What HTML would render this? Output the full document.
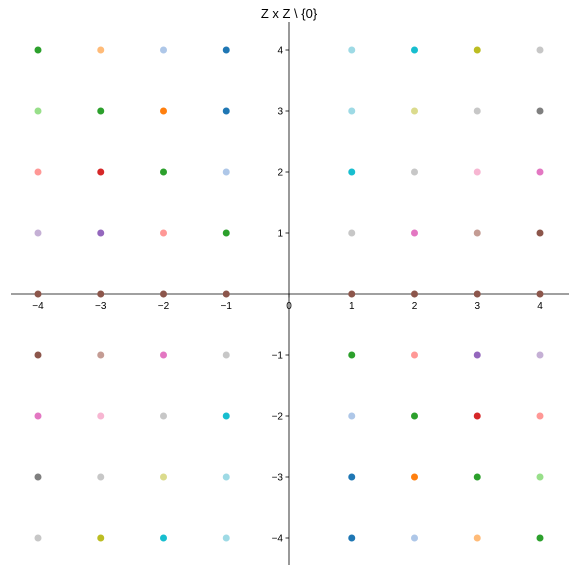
<!DOCTYPE html>
<html><head><meta charset="utf-8"><style>
body{margin:0;background:#fff;}
svg{display:block;font-family:"Liberation Sans","DejaVu Sans",sans-serif;}
</style></head><body>
<svg id="chart" width="579" height="577" xmlns="http://www.w3.org/2000/svg">
<text x="289" y="18" text-anchor="middle" font-size="13">Z x Z \ {0}</text>
<g id="axes"></g>
<g id="points"></g>
</svg>
<script>
const xTicks=[-4,-3,-2,-1,0,1,2,3,4];
const yTicks=[-4,-3,-2,-1,1,2,3,4];
const xs=[-4,-3,-2,-1,1,2,3,4];
const ys=[4,3,2,1,0,-1,-2,-3,-4];
const rowColors=[
["#2ca02c","#ffbb78","#aec7e8","#1f77b4","#9edae5","#17becf","#bcbd22","#c7c7c7"],
["#98df8a","#2ca02c","#ff7f0e","#1f77b4","#9edae5","#dbdb8d","#c7c7c7","#7f7f7f"],
["#ff9896","#d62728","#2ca02c","#aec7e8","#17becf","#c7c7c7","#f7b6d2","#e377c2"],
["#c5b0d5","#9467bd","#ff9896","#2ca02c","#c7c7c7","#e377c2","#c49c94","#8c564b"],
["#8c564b","#8c564b","#8c564b","#8c564b","#8c564b","#8c564b","#8c564b","#8c564b"],
["#8c564b","#c49c94","#e377c2","#c7c7c7","#2ca02c","#ff9896","#9467bd","#c5b0d5"],
["#e377c2","#f7b6d2","#c7c7c7","#17becf","#aec7e8","#2ca02c","#d62728","#ff9896"],
["#7f7f7f","#c7c7c7","#dbdb8d","#9edae5","#1f77b4","#ff7f0e","#2ca02c","#98df8a"],
["#c7c7c7","#bcbd22","#17becf","#9edae5","#1f77b4","#aec7e8","#ffbb78","#2ca02c"]
];
const NS="http://www.w3.org/2000/svg";
const X=v=>289+v*62.75, Y=v=>294-v*61;
function mk(t,a,p){const e=document.createElementNS(NS,t);for(const k in a)e.setAttribute(k,a[k]);p.appendChild(e);return e;}
const ax=document.getElementById('axes'), pts=document.getElementById('points');
let l=mk('line',{x1:11,x2:569,y1:Y(0),y2:Y(0),stroke:'#000','stroke-width':0.8},ax);


l=mk('line',{x1:X(0),x2:X(0),y1:22,y2:565,stroke:'#000','stroke-width':0.8},ax);


xTicks.forEach(v=>{
 const t=mk('line',{x1:X(v),x2:X(v),y1:Y(0),y2:Y(0)+3.5,stroke:'#000','stroke-width':0.8},ax);
 
 
 const s=mk('text',{x:X(v),y:Y(0)+15,'text-anchor':'middle','font-size':10},ax);
 s.textContent=v<0?'\u2212'+(-v):String(v);
 
 
});
yTicks.forEach(v=>{
 const t=mk('line',{x1:X(0)-3.5,x2:X(0),y1:Y(v),y2:Y(v),stroke:'#000','stroke-width':0.8},ax);
 
 
 const s=mk('text',{x:X(0)-6,y:Y(v)+3.5,'text-anchor':'end','font-size':10},ax);
 s.textContent=v<0?'\u2212'+(-v):String(v);
 
 
});
ys.forEach((yv,i)=>xs.forEach((xv,j)=>{
 const c=mk('circle',{cx:X(xv),cy:Y(yv),r:3.5,fill:rowColors[i][j]},pts);
 
 
}));
</script>
</body></html>
